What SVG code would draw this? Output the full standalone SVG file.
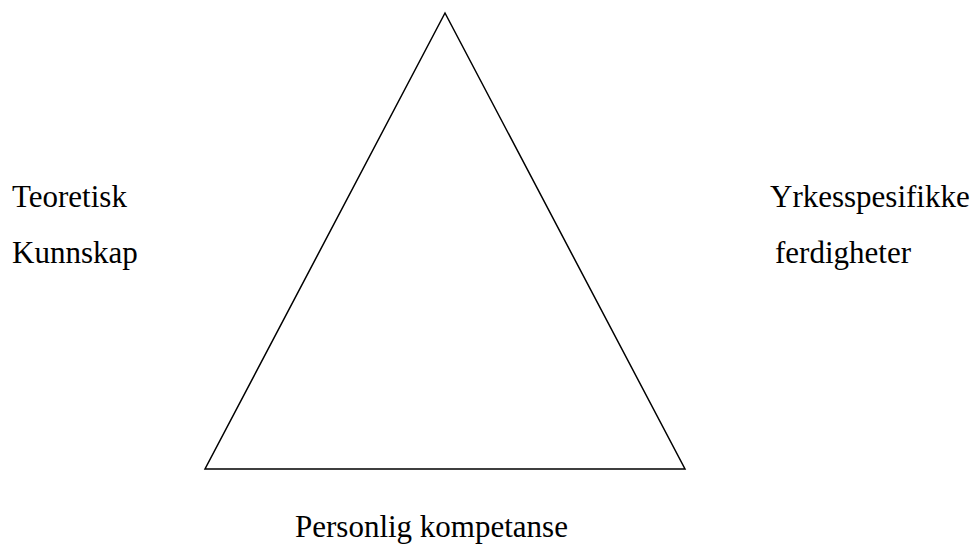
<svg xmlns="http://www.w3.org/2000/svg" width="975" height="548" viewBox="0 0 975 548">
<style>
.t{font-family:"Liberation Serif","Times New Roman",serif;font-size:31px;fill:#000}
.s{fill:none;stroke:#000;stroke-width:1.5;stroke-linejoin:miter}
</style>
<rect width="975" height="548" fill="#fff"/>
<g id="triangle"><polygon class="s" points="445,13 685,469 205,469"/></g>
<g id="label-left"><text class="t" x="12" y="207">Teoretisk</text><text class="t" x="12" y="263">Kunnskap</text></g>
<g id="label-right"><text class="t" x="770" y="207">Yrkesspesifikke</text><text class="t" x="775" y="263">ferdigheter</text></g>
<g id="label-bottom"><text class="t" x="295" y="537">Personlig kompetanse</text></g>
</svg>
